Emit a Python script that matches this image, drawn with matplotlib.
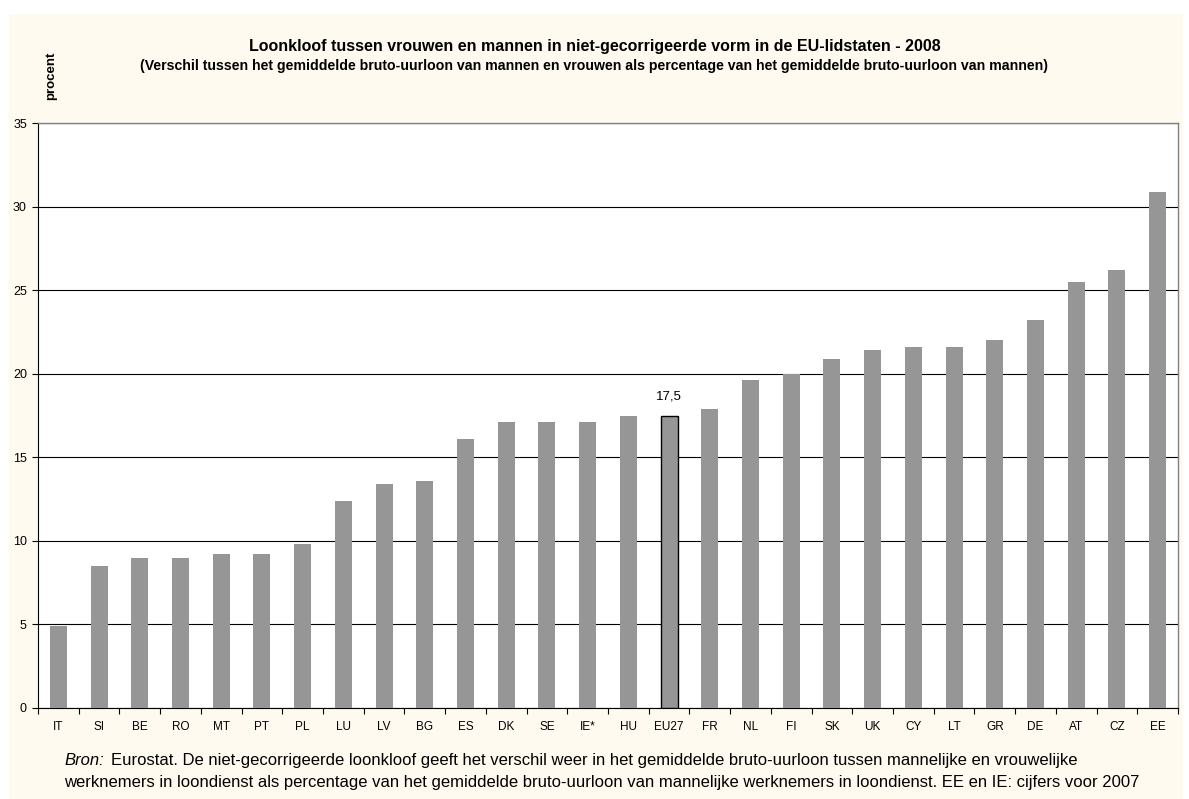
import matplotlib
matplotlib.use('Agg')
import matplotlib.pyplot as plt
from matplotlib.patches import Rectangle

# Data (percent)
countries = ['IT', 'SI', 'BE', 'RO', 'MT', 'PT', 'PL', 'LU', 'LV', 'BG', 'ES', 'DK', 'SE', 'IE*',
             'HU', 'EU27', 'FR', 'NL', 'FI', 'SK', 'UK', 'CY', 'LT', 'GR', 'DE', 'AT', 'CZ', 'EE']
gap = [4.9, 8.5, 9.0, 9.0, 9.2, 9.2, 9.8, 12.4, 13.4, 13.6, 16.1, 17.1, 17.1, 17.1,
       17.5, 17.5, 17.9, 19.6, 20.0, 20.9, 21.4, 21.6, 21.6, 22.0, 23.2, 25.5, 26.2, 30.9]
highlight = 'EU27'
yticks = [0, 5, 10, 15, 20, 25, 30, 35]

plt.rcParams['font.family'] = ['Liberation Sans', 'DejaVu Sans']

fig = plt.figure(figsize=(11.89, 7.99), dpi=100)
fig.patch.set_facecolor('white')
cream = '#fffaf0'
fig.patches.append(Rectangle((9 / 1189, 0), 1174 / 1189, (799 - 14) / 799,
                             transform=fig.transFigure, facecolor=cream,
                             edgecolor='none', zorder=-10))

ax = fig.add_axes([38 / 1189, 91 / 799, 1140 / 1189, 585 / 799])
ax.set_facecolor('white')

x = range(len(countries))
colors = ['#969696'] * len(countries)
edges = ['none' if c != highlight else 'black' for c in countries]
bars = ax.bar(x, gap, width=0.42, color=colors, edgecolor=edges, linewidth=1.0, zorder=3)

i = countries.index(highlight)
ax.text(i, gap[i] + 0.75, f"{gap[i]:.1f}".replace('.', ','), ha='center', va='bottom', fontsize=9.5)

ax.set_xlim(-0.5, len(countries) - 0.5)
ax.set_ylim(0, 35)
ax.set_yticks(yticks)
ax.set_yticklabels([str(t) for t in yticks], fontsize=9)
ax.yaxis.grid(True, color='black', linewidth=0.8)
ax.set_axisbelow(True)

# x ticks between categories, labels centred
ax.set_xticks([k + 0.5 for k in range(-1, len(countries))])
ax.set_xticklabels([])
ax.set_xticks(list(x), minor=True)
ax.set_xticklabels(countries, minor=True, fontsize=8.5)
ax.tick_params(axis='x', which='major', direction='out', length=4, color='black')
ax.tick_params(axis='x', which='minor', length=0, pad=9)
ax.tick_params(axis='y', direction='out', length=4, pad=4)

for side in ['top', 'right']:
    ax.spines[side].set_color('#808080')
    ax.spines[side].set_linewidth(1.0)
ax.spines['left'].set_color('black')
ax.spines['bottom'].set_color('black')

fig.text(0.5, 1 - 46 / 799, 'Loonkloof tussen vrouwen en mannen in niet-gecorrigeerde vorm in de EU-lidstaten - 2008',
         ha='center', va='center', fontsize=11.5, fontweight='bold')
fig.text(0.5, 1 - 66 / 799, '(Verschil tussen het gemiddelde bruto-uurloon van mannen en vrouwen als percentage van het gemiddelde bruto-uurloon van mannen)',
         ha='center', va='center', fontsize=10.2, fontweight='bold')
fig.text(51 / 1189, 1 - 76 / 799, 'procent', rotation=90, ha='center', va='center',
         fontsize=9.5, fontweight='bold')

fig.text(64 / 1189, 1 - 765 / 799, 'Bron:', fontsize=12, va='baseline', style='italic')
fig.text(111 / 1189, 1 - 765 / 799,
         'Eurostat. De niet-gecorrigeerde loonkloof geeft het verschil weer in het gemiddelde bruto-uurloon tussen mannelijke en vrouwelijke',
         fontsize=12, va='baseline')
fig.text(64 / 1189, 1 - 787 / 799,
         'werknemers in loondienst als percentage van het gemiddelde bruto-uurloon van mannelijke werknemers in loondienst. EE en IE: cijfers voor 2007',
         fontsize=12, va='baseline')

fig.savefig('out.png', dpi=100, facecolor=fig.get_facecolor())
